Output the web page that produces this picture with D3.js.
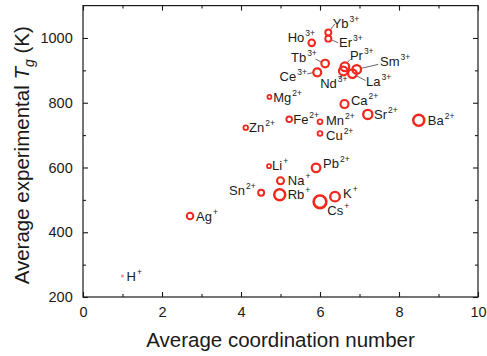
<!DOCTYPE html>
<html>
<head>
<meta charset="utf-8">
<script src="https://cdn.jsdelivr.net/npm/d3@7"></script>
<style>
  html, body { margin: 0; padding: 0; background: #fff; }
  svg { display: block; font-family: "Liberation Sans", Arial, sans-serif; }
</style>
</head>
<body>
<svg id="chart" width="487" height="356"></svg>
<script>
// Cations, their charge, average coordination number and average Tg (K)
const ions    = ["H", "Ag", "Sn", "Li", "Na", "Rb", "Pb", "Cs", "K", "Ba", "Sr", "Ca", "Mn", "Cu", "Fe", "Zn", "Mg", "Ce", "Tb", "Ho", "Yb", "Er", "Pr", "Nd", "La", "Sm"];
const charges = ["+", "+", "2+", "+", "+", "+", "2+", "+", "+", "2+", "2+", "2+", "2+", "2+", "2+", "2+", "2+", "3+", "3+", "3+", "3+", "3+", "3+", "3+", "3+", "3+"];
const coordNumber = [1.0, 2.71, 4.51, 4.71, 5.0, 4.98, 5.9, 6.0, 6.38, 8.5, 7.21, 6.62, 6.0, 6.0, 5.22, 4.12, 4.72, 5.93, 6.13, 5.79, 6.21, 6.21, 6.63, 6.59, 6.82, 6.93];
const avgTg       = [265, 450, 522, 604, 559, 516, 599, 494, 510, 746, 764, 796, 741, 705, 749, 723, 818, 894, 921, 985, 1017, 998, 911, 898, 890, 903];
// relative marker size of each cation
const markerSize  = [0.8, 3.3, 3.0, 2.0, 3.5, 5.5, 4.3, 6.3, 4.8, 5.5, 4.6, 4.0, 2.4, 2.4, 2.8, 2.3, 2.0, 4.0, 3.8, 3.3, 3.0, 3.0, 4.3, 4.3, 4.3, 4.3];

const xTicks = [0, 2, 4, 6, 8, 10];
const yTicks = [200, 400, 600, 800, 1000];

const svg = d3.select("#chart");
const plotLeft = 83, plotRight = 478, plotTop = 5.6, plotBottom = 297;

const x = d3.scaleLinear().domain([0, 10]).range([plotLeft, plotRight]);
const y = d3.scaleLinear().domain([200, 1100]).range([plotBottom, plotTop]);
const r = d3.scaleLinear().domain([0, 10]).range([0, 10]);

const red = "#f0281e";
const ink = "#1a1a1a";

// Label placement: anchor, offset of the text baseline from the marker centre,
// and an optional leader line (offsets from the marker centre).
const labelLayout = {
  H:  { a: "start", dx: 4,     dy: 4.7 },
  Ag: { a: "start", dx: 6,     dy: 4.7 },
  Sn: { a: "end",   dx: -5.5,  dy: 2.7 },
  Li: { a: "start", dx: 3,     dy: 3.7 },
  Na: { a: "start", dx: 7.3,   dy: 4.7 },
  Rb: { a: "start", dx: 8,     dy: 4.7 },
  Pb: { a: "start", dx: 7,     dy: 0.3 },
  Cs: { a: "start", dx: 7.3,   dy: 13 },
  K:  { a: "start", dx: 8,     dy: 1.7 },
  Ba: { a: "start", dx: 9,     dy: 4.7 },
  Sr: { a: "start", dx: 6.3,   dy: 4.7 },
  Ca: { a: "start", dx: 6.4,   dy: 1.4 },
  Mn: { a: "start", dx: 6,     dy: 3 },
  Cu: { a: "start", dx: 6,     dy: 6.4 },
  Fe: { a: "start", dx: 4,     dy: 4.7 },
  Zn: { a: "start", dx: 3.3,   dy: 4.7 },
  Mg: { a: "start", dx: 3.7,   dy: 4.7 },
  Ce: { a: "end",   dx: -10.3, dy: 9,    lead: [-10, 1.5, -4.5, 0.5] },
  Tb: { a: "end",   dx: -8.3,  dy: -1.9, lead: [-9.5, -4.5, -3.5, -1.3] },
  Ho: { a: "end",   dx: 3.3,   dy: -1.3 },
  Yb: { a: "start", dx: 4.4,   dy: -4.9, lead: [6.5, -8.5, 2.5, -3.3] },
  Er: { a: "start", dx: 10.7,  dy: 8.1,  lead: [3.3, 1.2, 9.8, 4.2] },
  Pr: { a: "start", dx: 5,     dy: -7,   lead: [5.5, -7.5, 2.3, -4.3] },
  Nd: { a: "end",   dx: 4.2,   dy: 16.5, lead: [-4.3, 8.3, -0.8, 2.8] },
  La: { a: "start", dx: 13.7,  dy: 12.1, lead: [3.2, 1.7, 13.2, 7] },
  Sm: { a: "start", dx: 23.3,  dy: -2.9, lead: [4.3, -1, 21.5, -5] }
};

// Frame
svg.append("rect")
  .attr("x", plotLeft).attr("y", plotTop)
  .attr("width", plotRight - plotLeft).attr("height", plotBottom - plotTop)
  .attr("fill", "none").attr("stroke", ink).attr("stroke-width", 1.2);

// Axes with inward ticks on all four sides
const minorX = d3.range(1, 10, 2);
const minorY = d3.range(300, 1100, 200);

function styleAxis(g) {
  g.select(".domain").remove();
  g.selectAll("line").attr("stroke", ink).attr("stroke-width", 1.1);
  g.selectAll("text").attr("fill", ink).attr("font-size", "14.5px")
    .attr("font-family", "Liberation Sans, Arial, sans-serif");
}

svg.append("g").attr("transform", `translate(0,${plotBottom})`)
  .call(d3.axisBottom(x).tickValues(xTicks).tickSize(-5).tickPadding(9.7).tickFormat(d3.format("d")))
  .call(styleAxis);
svg.append("g").attr("transform", `translate(0,${plotBottom})`)
  .call(d3.axisBottom(x).tickValues(minorX).tickSize(-3).tickFormat(""))
  .call(styleAxis);
svg.append("g").attr("transform", `translate(0,${plotTop})`)
  .call(d3.axisTop(x).tickValues(xTicks).tickSize(-5).tickFormat(""))
  .call(styleAxis);
svg.append("g").attr("transform", `translate(0,${plotTop})`)
  .call(d3.axisTop(x).tickValues(minorX).tickSize(-3).tickFormat(""))
  .call(styleAxis);

svg.append("g").attr("transform", `translate(${plotLeft},0)`)
  .call(d3.axisLeft(y).tickValues(yTicks).tickSize(-5).tickPadding(10.3).tickFormat(d3.format("d")))
  .call(styleAxis);
svg.append("g").attr("transform", `translate(${plotLeft},0)`)
  .call(d3.axisLeft(y).tickValues(minorY).tickSize(-3).tickFormat(""))
  .call(styleAxis);
svg.append("g").attr("transform", `translate(${plotRight},0)`)
  .call(d3.axisRight(y).tickValues(yTicks).tickSize(-5).tickFormat(""))
  .call(styleAxis);
svg.append("g").attr("transform", `translate(${plotRight},0)`)
  .call(d3.axisRight(y).tickValues(minorY).tickSize(-3).tickFormat(""))
  .call(styleAxis);

// Axis titles
svg.append("text")
  .attr("x", (plotLeft + plotRight) / 2).attr("y", 347)
  .attr("text-anchor", "middle").attr("font-size", "20.5px").attr("fill", ink)
  .text("Average coordination number");

const yTitle = svg.append("text")
  .attr("transform", `translate(29,${(plotTop + plotBottom) / 2 + 4}) rotate(-90)`)
  .attr("text-anchor", "middle").attr("font-size", "20.5px").attr("fill", ink);
yTitle.append("tspan").text("Average experimental ");
yTitle.append("tspan").attr("font-style", "italic").text("T");
yTitle.append("tspan").attr("font-style", "italic").attr("font-size", "14px").attr("dy", 5).text("g");
yTitle.append("tspan").attr("dy", -5).text(" (K)");

// Data records
const data = ions.map((ion, i) => ({
  ion, charge: charges[i], cn: coordNumber[i], tg: avgTg[i], size: markerSize[i]
}));

// Leader lines
svg.append("g").selectAll("line")
  .data(data.filter(d => labelLayout[d.ion].lead))
  .join("line")
  .attr("x1", d => x(d.cn) + labelLayout[d.ion].lead[0])
  .attr("y1", d => y(d.tg) + labelLayout[d.ion].lead[1])
  .attr("x2", d => x(d.cn) + labelLayout[d.ion].lead[2])
  .attr("y2", d => y(d.tg) + labelLayout[d.ion].lead[3])
  .attr("stroke", "#555").attr("stroke-width", 0.9);

// Ring markers
svg.append("g").selectAll("circle")
  .data(data)
  .join("circle")
  .attr("cx", d => x(d.cn))
  .attr("cy", d => y(d.tg))
  .attr("r", d => r(d.size))
  .attr("fill", "none")
  .attr("stroke", red)
  .attr("stroke-opacity", d => d.size < 1 ? 0.5 : 1)
  .attr("stroke-width", d => 1.3 + r(d.size) * 0.22);

// Ion labels with superscript charge
const labels = svg.append("g").selectAll("text")
  .data(data)
  .join("text")
  .attr("x", d => x(d.cn) + labelLayout[d.ion].dx)
  .attr("y", d => y(d.tg) + labelLayout[d.ion].dy)
  .attr("text-anchor", d => labelLayout[d.ion].a)
  .attr("font-size", "13px")
  .attr("fill", ink);
labels.append("tspan").text(d => d.ion);
labels.append("tspan")
  .attr("font-size", "8.5px")
  .attr("dx", 1)
  .attr("dy", -6)
  .text(d => d.charge);
</script>
</body>
</html>
